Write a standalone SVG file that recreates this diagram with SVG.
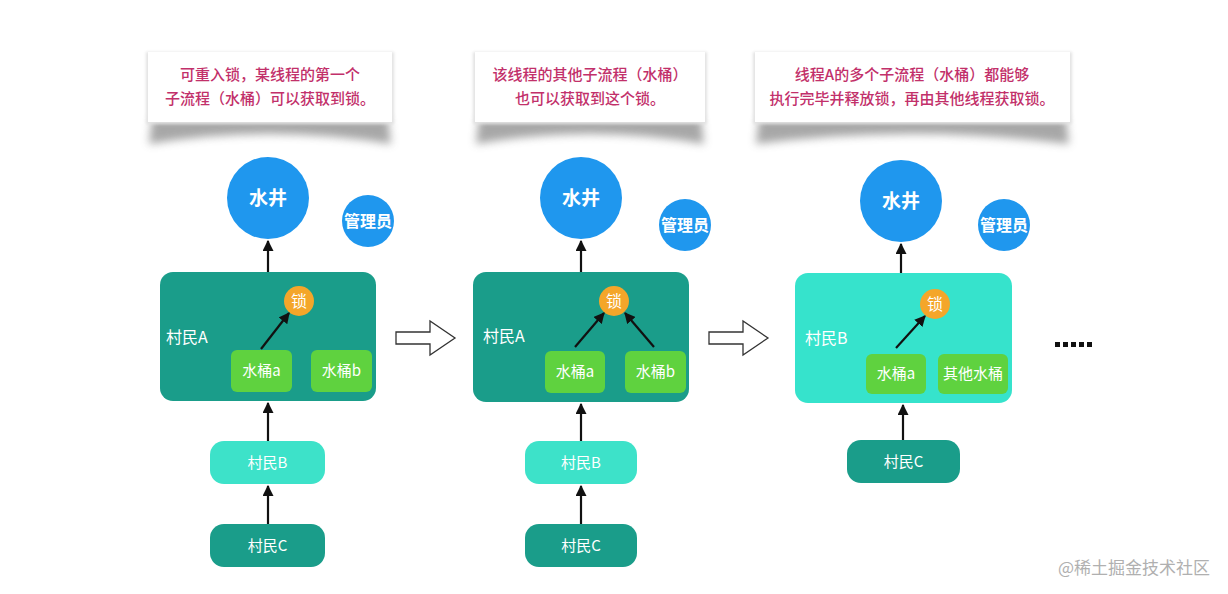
<svg xmlns="http://www.w3.org/2000/svg" width="1228" height="594" viewBox="0 0 1228 594">
<style>
text{font-family:"Noto Sans CJK SC","Noto Sans",sans-serif;}
.note{fill:#c2306a;font-size:15px;text-anchor:middle;font-weight:500;}
.well{fill:#1f97ee;}
.wt{fill:#fff;font-size:19px;font-weight:700;text-anchor:middle;}
.mt{fill:#fff;font-size:16px;font-weight:700;text-anchor:middle;}
.dark{fill:#1a9d8a;}
.light{fill:#3de2c9;}
.bucket{fill:#5fd23f;}
.lock{fill:#f4a62a;}
.lbl{fill:#fff;font-size:16px;}
.bt{fill:#fff;font-size:15px;text-anchor:middle;}
.lt{fill:#fff;font-size:16px;text-anchor:middle;}
.edge{stroke:#111;stroke-width:2.2;fill:none;marker-end:url(#ah);}
.hollow{fill:#fff;stroke:#333;stroke-width:1.3;}
.shadow{fill:#8a8a8a;opacity:0.75;}
</style>
<defs>
<marker id="ah" viewBox="0 0 10 10" refX="9" refY="5" markerWidth="5" markerHeight="5" orient="auto" markerUnits="strokeWidth">
<path d="M0,0 L10,5 L0,10 z" fill="#111"/>
</marker>
<filter id="blur" x="-10%" y="-60%" width="120%" height="220%"><feGaussianBlur stdDeviation="4"/></filter>
<filter id="sblur" x="-10%" y="-10%" width="120%" height="120%"><feGaussianBlur stdDeviation="1.5"/></filter>
</defs>
<rect width="1228" height="594" fill="#fff"/>

<g id="note1">
<path class="shadow" d="M152,118 L388,118 L391,144 Q270,124 149,144 Z" filter="url(#blur)"/>
<rect x="146" y="52" width="248" height="72" fill="#e2e2e2" filter="url(#sblur)"/>
<rect x="148" y="52" width="244" height="70" fill="#fff"/>
<text class="note" x="270" y="80">可重入锁，某线程的第一个</text>
<text class="note" x="270" y="104">子流程（水桶）可以获取到锁。</text>
</g>
<g id="note2">
<path class="shadow" d="M479,118 L701,118 L704,144 Q590,124 476,144 Z" filter="url(#blur)"/>
<rect x="473" y="52" width="234" height="72" fill="#e2e2e2" filter="url(#sblur)"/>
<rect x="475" y="52" width="230" height="70" fill="#fff"/>
<text class="note" x="590" y="80">该线程的其他子流程（水桶）</text>
<text class="note" x="590" y="104">也可以获取到这个锁。</text>
</g>
<g id="note3">
<path class="shadow" d="M759,118 L1066,118 L1069,144 Q912,124 756,144 Z" filter="url(#blur)"/>
<rect x="753" y="52" width="319" height="72" fill="#e2e2e2" filter="url(#sblur)"/>
<rect x="755" y="52" width="315" height="70" fill="#fff"/>
<text class="note" x="912" y="80">线程A的多个子流程（水桶）都能够</text>
<text class="note" x="912" y="104">执行完毕并释放锁，再由其他线程获取锁。</text>
</g>

<!-- Panel 1 -->
<g id="well1"><circle class="well" cx="268" cy="198" r="41"/><text class="wt" x="268" y="205">水井</text></g>
<g id="admin1"><circle class="well" cx="368" cy="221" r="26"/><text class="mt" x="368" y="227">管理员</text></g>
<g id="villagerA1"><rect class="dark" x="160" y="272" width="216" height="129" rx="13"/><text class="lbl" x="166" y="343">村民A</text></g>
<g id="lock1"><circle class="lock" cx="299" cy="301" r="15"/><text class="lt" x="299" y="307">锁</text></g>
<g id="bucketA1"><rect class="bucket" x="231" y="350" width="61" height="42" rx="6"/><text class="bt" x="261.5" y="376">水桶a</text></g>
<g id="bucketB1"><rect class="bucket" x="311" y="350" width="61" height="42" rx="6"/><text class="bt" x="341.5" y="376">水桶b</text></g>
<g id="villagerB1"><rect class="light" x="210" y="441" width="115" height="43" rx="14"/><text class="bt" x="267.5" y="468">村民B</text></g>
<g id="villagerC1"><rect class="dark" x="210" y="524" width="115" height="43" rx="14"/><text class="bt" x="267.5" y="551">村民C</text></g>

<!-- Panel 2 -->
<g id="well2"><circle class="well" cx="581" cy="198" r="41"/><text class="wt" x="581" y="205">水井</text></g>
<g id="admin2"><circle class="well" cx="685" cy="225" r="26"/><text class="mt" x="685" y="231">管理员</text></g>
<g id="villagerA2"><rect class="dark" x="473" y="272" width="216" height="130" rx="13"/><text class="lbl" x="483" y="342">村民A</text></g>
<g id="lock2"><circle class="lock" cx="614" cy="301" r="15"/><text class="lt" x="614" y="307">锁</text></g>
<g id="bucketA2"><rect class="bucket" x="545" y="351" width="60" height="42" rx="6"/><text class="bt" x="575" y="377">水桶a</text></g>
<g id="bucketB2"><rect class="bucket" x="625" y="351" width="61" height="42" rx="6"/><text class="bt" x="655.5" y="377">水桶b</text></g>
<g id="villagerB2"><rect class="light" x="525" y="441" width="112" height="43" rx="14"/><text class="bt" x="581" y="468">村民B</text></g>
<g id="villagerC2"><rect class="dark" x="525" y="524" width="112" height="43" rx="14"/><text class="bt" x="581" y="551">村民C</text></g>

<!-- Panel 3 -->
<g id="well3"><circle class="well" cx="901" cy="201" r="41"/><text class="wt" x="901" y="208">水井</text></g>
<g id="admin3"><circle class="well" cx="1004" cy="225" r="26"/><text class="mt" x="1004" y="231">管理员</text></g>
<g id="villagerB3"><rect fill="#36e3cc" x="795" y="273" width="217" height="130" rx="13"/><text class="lbl" x="805" y="344">村民B</text></g>
<g id="lock3"><circle class="lock" cx="935" cy="304" r="15"/><text class="lt" x="935" y="310">锁</text></g>
<g id="bucketA3"><rect class="bucket" x="866" y="354" width="60" height="40" rx="6"/><text class="bt" x="896" y="379">水桶a</text></g>
<g id="bucketOther3"><rect class="bucket" x="938" y="354" width="70" height="40" rx="6"/><text class="bt" x="973" y="379">其他水桶</text></g>
<g id="villagerC3"><rect class="dark" x="847" y="440" width="113" height="43" rx="14"/><text class="bt" x="903.5" y="467">村民C</text></g>

<g id="hollowArrows">
<path class="hollow" d="M396,332 L430,332 L430,321 L455,338 L430,355 L430,344 L396,344 Z"/>
<path class="hollow" d="M709,332 L743,332 L743,321 L768,338 L743,355 L743,344 L709,344 Z"/>
</g>

<g id="dots" fill="#111">
<rect x="1055" y="342" width="5" height="5"/><rect x="1063" y="342" width="5" height="5"/><rect x="1071" y="342" width="5" height="5"/><rect x="1079" y="342" width="5" height="5"/><rect x="1087" y="342" width="5" height="5"/>
</g>

<g id="connectors">
<line class="edge" x1="268" y1="272" x2="268" y2="241"/>
<line class="edge" x1="261" y1="349" x2="289" y2="313"/>
<line class="edge" x1="268" y1="441" x2="268" y2="403"/>
<line class="edge" x1="268" y1="524" x2="268" y2="486"/>
<line class="edge" x1="581" y1="272" x2="581" y2="241"/>
<line class="edge" x1="575" y1="347" x2="604" y2="313"/>
<line class="edge" x1="654" y1="347" x2="625" y2="313"/>
<line class="edge" x1="581" y1="441" x2="581" y2="404"/>
<line class="edge" x1="581" y1="524" x2="581" y2="486"/>
<line class="edge" x1="901" y1="273" x2="901" y2="244"/>
<line class="edge" x1="896" y1="348" x2="925" y2="316"/>
<line class="edge" x1="903" y1="440" x2="903" y2="405"/>
</g>

<g id="watermark">
<text x="1210" y="574" font-size="17" fill="#b0b0b0" text-anchor="end">@稀土掘金技术社区</text>
</g>
</svg>
